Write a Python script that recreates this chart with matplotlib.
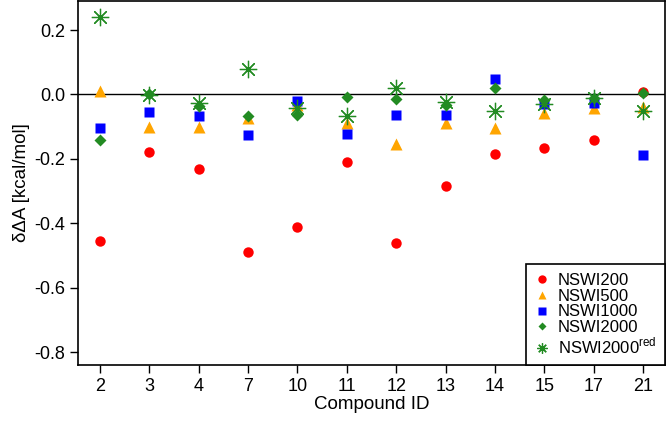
import numpy as np
import matplotlib
matplotlib.use('Agg')
import matplotlib.pyplot as plt

plt.rcParams['font.family'] = ['Liberation Sans', 'DejaVu Sans']
plt.rcParams['mathtext.fontset'] = 'custom'
plt.rcParams['mathtext.rm'] = 'Liberation Sans'

compounds = ['2', '3', '4', '7', '10', '11', '12', '13', '14', '15', '17', '21']

nswi200 = [-0.455, -0.180, -0.232, -0.488, -0.410, -0.209, -0.460, -0.284, -0.186, -0.165, -0.141, 0.008]
nswi500 = [0.010, -0.100, -0.102, -0.074, -0.033, -0.090, -0.154, -0.090, -0.105, -0.058, -0.043, -0.040]
nswi1000 = [-0.104, -0.055, -0.066, -0.126, -0.019, -0.124, -0.064, -0.064, 0.048, -0.030, -0.027, -0.187]
nswi2000 = [-0.141, 0.000, -0.036, -0.068, -0.065, -0.009, -0.015, -0.033, 0.019, -0.017, -0.012, 0.004]
nswi2000red = [0.240, -0.002, -0.027, 0.079, -0.043, -0.067, 0.019, -0.025, -0.051, -0.030, -0.010, -0.051]

x = np.arange(1, len(compounds) + 1)

fig = plt.figure(figsize=(6.66, 4.22), dpi=100)
ax = fig.add_axes([0.117, 0.135, 0.8815, 0.8626])

ax.axhline(0, color='black', lw=1, zorder=1)

ax.plot(x, nswi200, 'o', color='red', ms=7.5, mec='none', label='NSWI200', zorder=3)
ax.plot(x, nswi500, '^', color='orange', ms=8, mec='none', label='NSWI500', zorder=3)
ax.plot(x, nswi1000, 's', color='blue', ms=6.5, mec='none', label='NSWI1000', zorder=3)
ax.plot(x, nswi2000, 'D', color='forestgreen', ms=6.5, mec='none', label='NSWI2000', zorder=3)
ax.plot(x, nswi2000red, ls='none', marker=(8, 2, 0), color='forestgreen', mec='forestgreen',
        ms=12.5, mew=0.9, label='NSWI2000$^{\\rm red}$', zorder=3)

ax.set_xlim(0.56, 12.44)
ax.set_ylim(-0.84, 0.29)
ax.set_xticks(x)
ax.set_xticklabels(compounds)
ax.set_yticks([-0.8, -0.6, -0.4, -0.2, 0.0, 0.2])
ax.set_yticklabels(['-0.8', '-0.6', '-0.4', '-0.2', '0.0', '0.2'])
ax.tick_params(labelsize=13, length=6, width=1, direction='out', pad=3)

for s in ax.spines.values():
    s.set_linewidth(1.2)

ax.set_xlabel('Compound ID', fontsize=13.5, labelpad=1)
ax.set_ylabel('δΔA [kcal/mol]', fontsize=13.5, labelpad=3)

leg = ax.legend(loc='lower right', fontsize=12, fancybox=False, edgecolor='black',
                framealpha=1, borderaxespad=0, handlelength=0.9, handletextpad=0.5,
                labelspacing=0.05, borderpad=0.5, markerscale=0.8)
leg.get_frame().set_linewidth(1.2)
leg.legend_handles[3].set_markersize(4.5)
leg.legend_handles[4].set_markersize(7.5)

plt.savefig('out.png', dpi=100)
